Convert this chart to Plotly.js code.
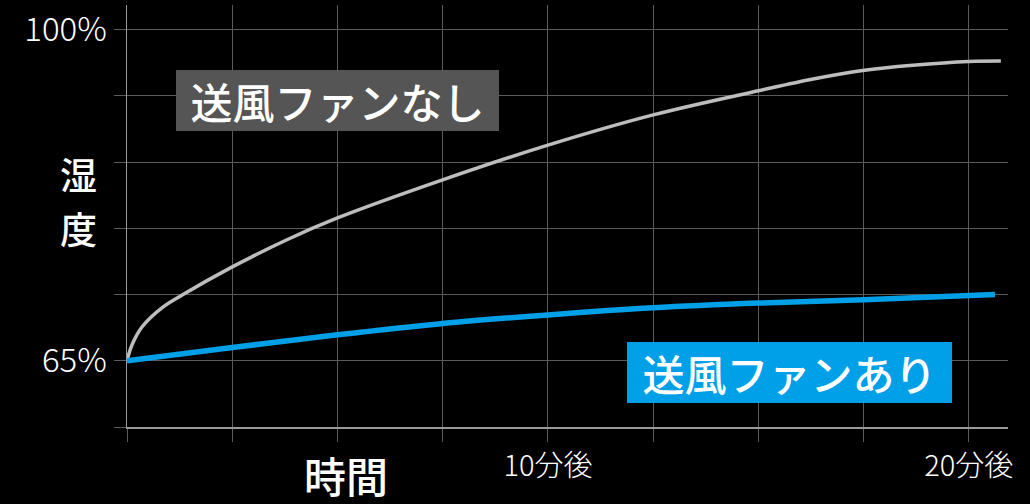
<!DOCTYPE html>
<html>
<head>
<meta charset="utf-8">
<script src="https://cdn.plot.ly/plotly-3.0.1.min.js"></script>
<style>
  html, body { margin: 0; padding: 0; background: #000; }
  #chart { width: 1030px; height: 504px; }
</style>
</head>
<body>
<div id="chart"></div>
<script>
// minutes after start vs humidity (%)
const noFanMinutes = [0, 0.12, 0.36, 0.83, 1.31, 2.49, 3.8, 5.0, 7.48, 10, 12.5, 15, 16.3, 17.48, 18.67, 20, 20.76];
const noFanHumidity = [65, 66.7, 68.6, 70.6, 71.95, 74.9, 77.8, 80.1, 84.1, 87.8, 91.0, 93.55, 94.8, 95.7, 96.25, 96.65, 96.7];

const fanMinutes = [0, 2.5, 5, 7.5, 10, 12.5, 15, 17.5, 20.62];
const fanHumidity = [65, 66.4, 67.75, 68.95, 69.85, 70.6, 71.1, 71.45, 72.0];

const xTickVals = [0, 2.5, 5, 7.5, 10, 12.5, 15, 17.5, 20];
const xTickText = ["", "", "", "", "10分後", "", "", "", "20分後"];
const yTickVals = [58, 65, 72, 79, 86, 93, 100];
const yTickText = ["", "65%", "", "", "", "", "100%"];

const jpFont = "Noto Sans CJK JP, Noto Sans, sans-serif";
const gridColor = "#5a5a5a";
const axisColor = "#9a9a9a";

const traceNoFan = {
    x: noFanMinutes,
    y: noFanHumidity,
    mode: "lines",
    type: "scatter",
    name: "送風ファンなし",
    line: { color: "#bdbdbd", width: 3.5, shape: "spline", smoothing: 1 },
    hoverinfo: "skip"
};

const traceFan = {
    x: fanMinutes,
    y: fanHumidity,
    mode: "lines",
    type: "scatter",
    name: "送風ファンあり",
    line: { color: "#00a0e9", width: 5.5, shape: "spline", smoothing: 1 },
    hoverinfo: "skip"
};

const layout = {
    width: 1030,
    height: 504,
    margin: { l: 127, r: 22, t: 5, b: 77 },
    paper_bgcolor: "#000000",
    plot_bgcolor: "#000000",
    showlegend: false,
    font: { family: jpFont, color: "#ffffff" },
    xaxis: {
        range: [0, 20.93],
        tickmode: "array",
        tickvals: xTickVals,
        ticktext: xTickText,
        ticks: "outside",
        ticklen: 13,
        tickwidth: 1,
        tickcolor: gridColor,
        showgrid: true,
        gridcolor: gridColor,
        gridwidth: 1,
        zeroline: false,
        showline: true,
        linecolor: axisColor,
        linewidth: 1.5,
        tickfont: { family: jpFont, size: 29, color: "#ffffff", weight: 300 },
        fixedrange: true
    },
    yaxis: {
        range: [58, 102.62],
        tickmode: "array",
        tickvals: yTickVals,
        ticktext: yTickText,
        ticks: "outside",
        ticklen: 12,
        tickwidth: 1,
        tickcolor: gridColor,
        showgrid: true,
        gridcolor: gridColor,
        gridwidth: 1,
        zeroline: false,
        showline: true,
        linecolor: axisColor,
        linewidth: 1.5,
        tickfont: { family: jpFont, size: 33, color: "#ffffff", weight: 300 },
        fixedrange: true
    },
    annotations: [
        {
            text: "送風ファンなし",
            xref: "paper", yref: "paper",
            x: 0.2389, y: 0.7737,
            xanchor: "center", yanchor: "middle",
            showarrow: false,
            width: 323, height: 61,
            borderpad: 0, borderwidth: 0,
            bgcolor: "#555555",
            font: { family: jpFont, size: 42, color: "#ffffff", weight: 500 }
        },
        {
            text: "送風ファンあり",
            xref: "paper", yref: "paper",
            x: 0.752, y: 0.1291,
            xanchor: "center", yanchor: "middle",
            showarrow: false,
            width: 325, height: 61,
            borderpad: 0, borderwidth: 0,
            bgcolor: "#00a0e9",
            font: { family: jpFont, size: 42, color: "#ffffff", weight: 500 }
        },
        {
            text: "時間",
            xref: "paper", yref: "paper",
            x: 0.2486, y: -0.1114,
            xanchor: "center", yanchor: "middle",
            showarrow: false,
            font: { family: jpFont, size: 42, color: "#ffffff", weight: 500 }
        },
        // vertical axis title, one character per line
        {
            text: "湿",
            xref: "paper", yref: "paper",
            x: -0.0545, y: 0.5995,
            xanchor: "center", yanchor: "middle",
            showarrow: false,
            font: { family: jpFont, size: 37, color: "#ffffff", weight: 500 }
        },
        {
            text: "度",
            xref: "paper", yref: "paper",
            x: -0.0545, y: 0.4716,
            xanchor: "center", yanchor: "middle",
            showarrow: false,
            font: { family: jpFont, size: 37, color: "#ffffff", weight: 500 }
        }
    ]
};

Plotly.newPlot("chart", [traceNoFan, traceFan], layout, { displayModeBar: false, staticPlot: true });
</script>
</body>
</html>
